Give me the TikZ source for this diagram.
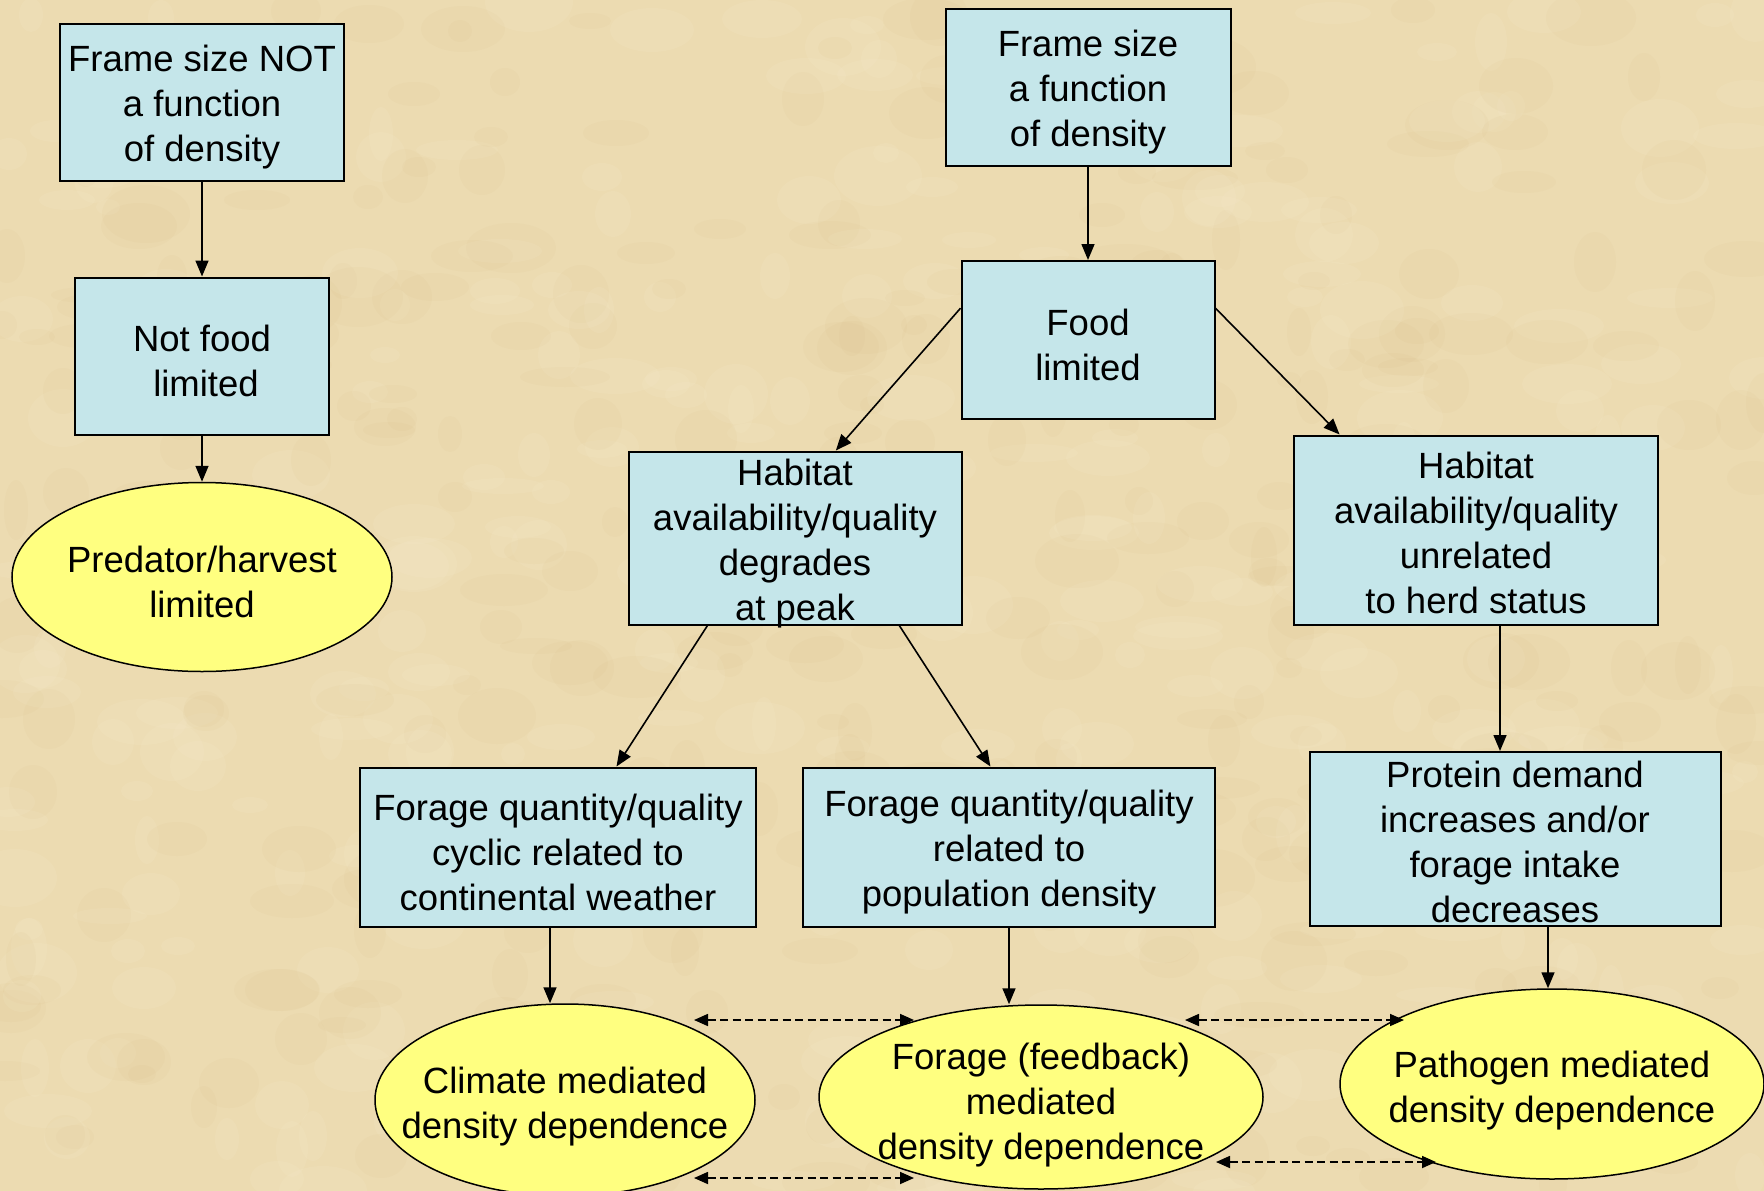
\documentclass[tikz,border=0pt]{standalone}
\usepackage{fontspec}
\setmainfont{Liberation Sans}
\usetikzlibrary{arrows.meta,shapes.geometric,calc}

\definecolor{bgcol}{RGB}{236,219,177}
\definecolor{bgdark}{RGB}{212,184,128}
\definecolor{bglight}{RGB}{248,238,210}
\definecolor{boxfill}{RGB}{197,230,234}
\definecolor{ellfill}{RGB}{255,255,128}

\begin{document}
\begin{tikzpicture}[x=1pt,y=-1pt,
  every node/.style={font=\fontsize{36.5}{45}\selectfont, align=center, inner sep=0pt},
  box/.style={draw=black, line width=2pt, fill=boxfill, rectangle},
  oval/.style={draw=black, line width=1.5pt, fill=ellfill, ellipse},
  txt/.style={yshift=-5pt},
  arr/.style={line width=1.6pt, -{Triangle[length=16pt,width=13pt]}},
  darr/.style={line width=1.7pt, dash pattern=on 8pt off 4.5pt,
    {Triangle[length=14pt,width=12pt]}-{Triangle[length=14pt,width=12pt]}}
]
\useasboundingbox (0,0) rectangle (1764,1191);
\begin{scope}
\clip (0,0) rectangle (1764,1191);
\fill[bgcol] (0,0) rectangle (1764,1191);
\pgfmathsetseed{42}
\foreach \i in {1,...,700}{
  \pgfmathsetmacro\xx{random(0,1764)}
  \pgfmathsetmacro\yy{random(0,1191)}
  \pgfmathsetmacro\rr{random(12,45)}
  \pgfmathsetmacro\ss{random(8,30)}
  \pgfmathtruncatemacro\cc{random(0,1)}
  \ifnum\cc=0
    \fill[bgdark, opacity=0.08] (\xx,\yy) ellipse [x radius=\rr, y radius=\ss];
  \else
    \fill[bglight, opacity=0.12] (\xx,\yy) ellipse [x radius=\rr, y radius=\ss];
  \fi
}
\end{scope}

% boxes
\node[box, minimum width=284, minimum height=157] (A) at (202,102) {};
\node[box, minimum width=254, minimum height=157] (B) at (202,356) {};
\node[box, minimum width=285, minimum height=157] (D) at (1088,87) {};
\node[box, minimum width=253, minimum height=158] (E) at (1088,340) {};
\node[box, minimum width=333, minimum height=173] (F) at (795,538) {};
\node[box, minimum width=364, minimum height=189] (G) at (1476,530) {};
\node[box, minimum width=396, minimum height=159] (H) at (558,847) {};
\node[box, minimum width=412, minimum height=159] (I) at (1009,847) {};
\node[box, minimum width=411, minimum height=174] (J) at (1515,839) {};

\node[txt] (At) at (A.center) {Frame size NOT\\a function\\of density};
\node[txt] (Bt) at (B.center) {Not food\\\hspace*{8pt}limited};
\node[txt] (Dt) at (D.center) {Frame size\\a function\\of density};
\node[txt] (Et) at (E.center) {Food\\limited};
\node[txt, yshift=-1pt] (Ft) at (F.center) {Habitat\\availability/quality\\degrades\\at peak};
\node[txt, yshift=2pt] (Gt) at (G.center) {Habitat\\availability/quality\\unrelated\\to herd status};
\node[txt] (Ht) at (H.center) {Forage quantity/quality\\cyclic related to\\continental weather};
\node[txt] (It) at (I.center) {Forage quantity/quality\\related to\\population density};
\node[txt, yshift=2pt] (Jt) at (J.center) {Protein demand\\increases and/or\\forage intake\\decreases};

% ellipses
\node[oval, minimum width=380, minimum height=189] (C) at (202,577) {};
\node[txt] (Ct) at (C.center) {Predator/harvest\\limited};
\node[oval, minimum width=380, minimum height=192] (K) at (565,1100) {};
\node[txt, yshift=-2pt] (Kt) at (K.center) {Climate mediated\\density dependence};
\node[oval, minimum width=444, minimum height=184] (L) at (1041,1097) {};
\node[txt, yshift=-3pt] (Lt) at (L.center) {Forage (feedback)\\mediated\\density dependence};
\node[oval, minimum width=424, minimum height=190] (M) at (1552,1084) {};
\node[txt, yshift=-2pt] (Mt) at (M.center) {Pathogen mediated\\density dependence};

% solid arrows
\draw[arr] (A.south) -- (B.north);
\draw[arr] (B.south) -- (C.north);
\draw[arr] (D.south) -- (E.north);
\draw[arr] (E.166) -- (F.65);
\draw[arr] (E.14) -- (G.145);
\draw[arr] (F.225) -- (H.54);
\draw[arr] (F.-40) -- (I.103);
\draw[arr] ([xshift=24pt]G.south) -- ([xshift=-15pt]J.north);
\draw[arr] ([xshift=-8pt]H.south) -- ([xshift=-8pt]H.south |- K.north);
\draw[arr] (I.south) -- (I.south |- L.north);
\draw[arr] ([xshift=33pt]J.south) -- ([xshift=33pt]J.south |- M.north);

% dashed two-way arrows
\draw[darr] ([shift={(129,-80)}]K.center) -- ([shift={(-127,-77)}]L.center);
\draw[darr] ([shift={(129,78)}]K.center) -- ([shift={(-127,81)}]L.center);
\draw[darr] ([shift={(144,-77)}]L.center) -- ([shift={(-148,-64)}]M.center);
\draw[darr] ([shift={(175,65)}]L.center) -- ([shift={(-116,78)}]M.center);
\end{tikzpicture}
\end{document}
